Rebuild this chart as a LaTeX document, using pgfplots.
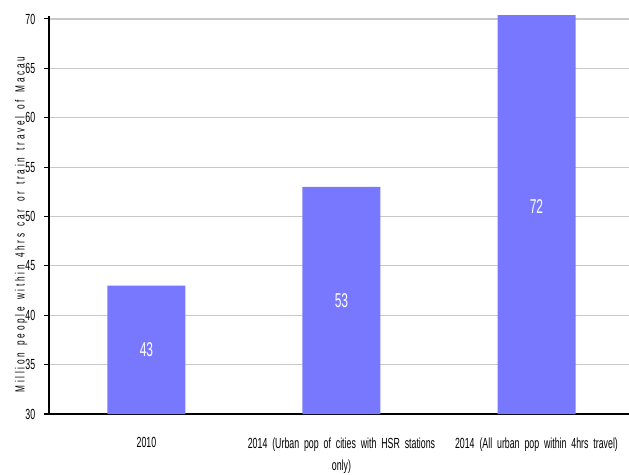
\documentclass[border=0pt]{standalone}
\usepackage{pgfplots}
\pgfplotsset{compat=1.18}
\usepackage{fontspec}
\setmainfont[FakeStretch=0.6]{Liberation Sans}
\newfontfamily\spaced[FakeStretch=0.62,LetterSpace=20,WordSpace=1.5]{Liberation Sans}
\definecolor{barblue}{RGB}{120,120,255}
\definecolor{gridgray}{RGB}{200,200,200}

\begin{document}
\begin{tikzpicture}[x=1pt,y=1pt]
\useasboundingbox (-36.75pt,-45.75pt) rectangle (435pt,310.5pt);
\begin{axis}[
  at={(0,0)}, anchor=south west,
  scale only axis,
  width=438.75pt, height=298.5pt,
  xmin=-0.5, xmax=2.5,
  ymin=30, ymax=70.3,
  axis x line*=bottom, axis y line*=left,
  x axis line style={line width=1.4pt,-},
  y axis line style={line width=0.8pt,-},
  ytick={30,35,...,70},
  ymajorgrids,
  grid style={gridgray, line width=0.9pt},
  tick align=outside,
  major tick length=3.75pt,
  y tick style={black, line width=0.8pt},
  xtick={0,1,2},
  xticklabels={2010, 2014 (Urban pop of cities with HSR stations\\only), 2014 (All urban pop within 4hrs travel)},
  x tick style={draw=none},
  extra x ticks={-0.5,0.5,1.5,2.5},
  extra x tick labels={},
  extra x tick style={major tick length=3.75pt, tick style={black, line width=0.8pt}},
  xticklabel style={font=\fontsize{11}{16.5}\selectfont, text width=165pt, align=center, yshift=-10.5pt},
  yticklabel style={font=\fontsize{11}{13}\selectfont, xshift=-3pt},
  /pgf/number format/assume math mode=true,
  ylabel={\spaced Million people within 4hrs car or train travel of Macau},
  ylabel style={font=\fontsize{10.3}{11}\selectfont},
  every axis y label/.style={at={(ticklabel cs:0.57)}, rotate=90, anchor=center, xshift=-28pt},
  ybar, bar width=0.4,
  clip=true,
]
% population values (millions)
\addplot[fill=barblue, draw=none] coordinates {(0,43) (1,53) (2,72)};
% value labels, centred on each bar between 30 and its value
\addplot[only marks, mark=none, point meta=explicit symbolic,
  nodes near coords, nodes near coords align=center,
  every node near coord/.append style={white, font=\fontsize{15}{16}\selectfont, anchor=center}]
  coordinates {(0,36.5) [43] (1,41.5) [53] (2,51) [72]};
\end{axis}
\end{tikzpicture}
\end{document}
